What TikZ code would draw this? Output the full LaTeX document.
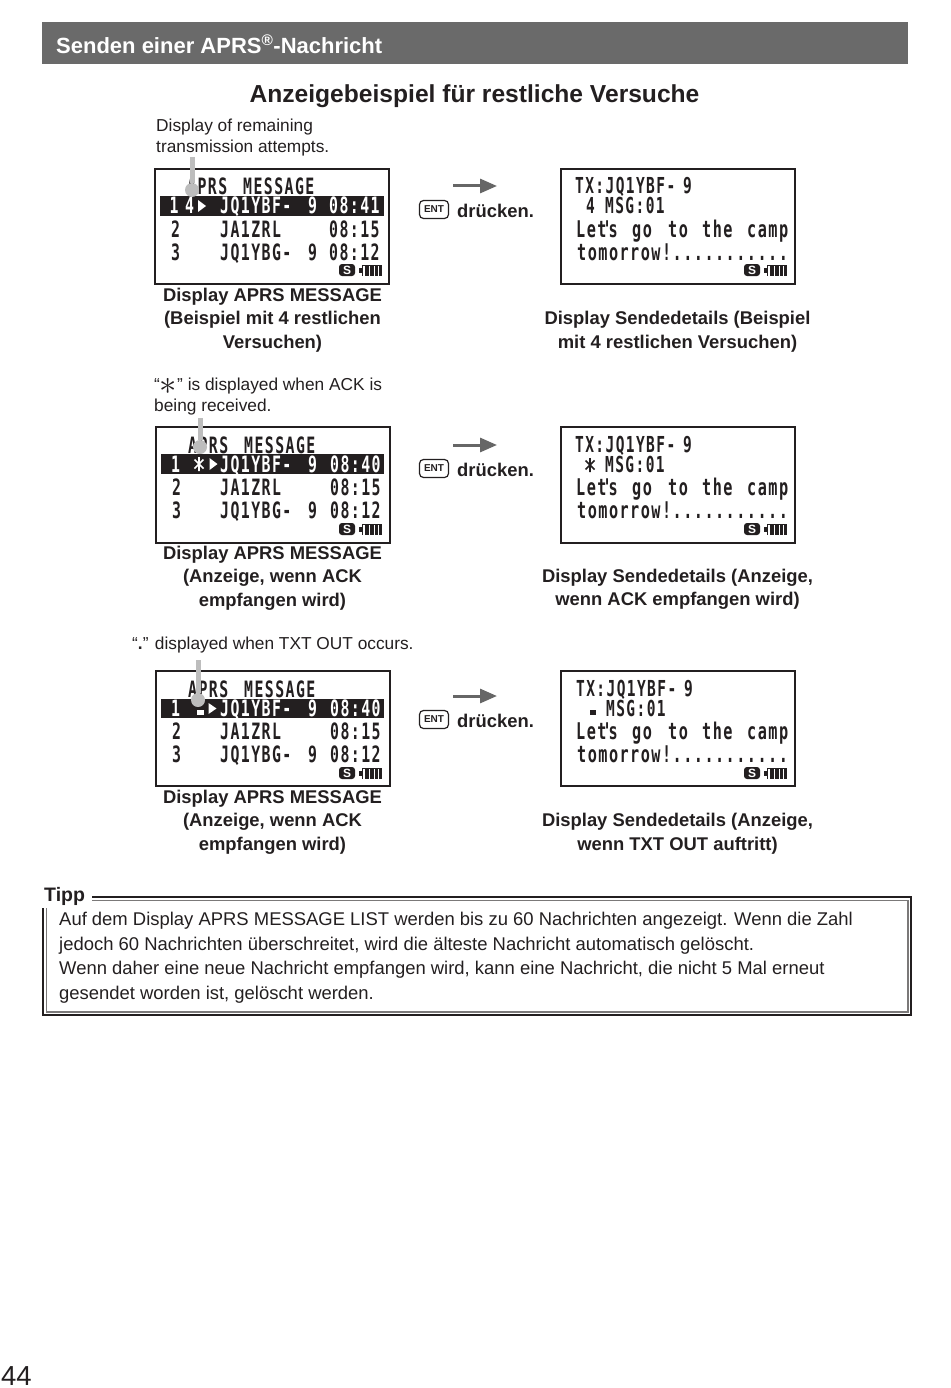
\documentclass[tikz,border=0pt]{standalone}
\usepackage{fontspec}
\usetikzlibrary{arrows.meta}
\setmainfont{Liberation Sans}
\newfontfamily\lcdfont[FakeStretch=0.66,LetterSpace=6.4]{DejaVu Sans Mono Bold}
\definecolor{inkdark}{HTML}{231F20}
\definecolor{headgray}{HTML}{6A6A6A}
\definecolor{leadgray}{HTML}{BDBDBD}
\definecolor{arrowgray}{HTML}{666666}
\begin{document}
\begin{tikzpicture}%
	[
	x=1pt,
	y=-1pt,
	every node/.style={inner sep=0pt,text=inkdark},
	screen/.style={draw=inkdark,line width=2.8pt,fill=white},
	lcdbar/.style={fill=inkdark},
	lcd/.style={anchor=base west,font=\lcdfont\fontsize{22.5}{22.5}\selectfont},
	lcdinv/.style={lcd,text=white},
	lcdline/.style={anchor=base west,font=\lcdfont\fontsize{23}{23}\selectfont},
	lcdtx/.style={anchor=base west,font=\lcdfont\fontsize{22}{22}\selectfont},
	lcdtip/.style={fill=white},
	caption/.style={align=center,font=\bfseries\fontsize{18.4}{23.5}\selectfont},
	callout/.style={anchor=west,align=left,font=\fontsize{17.3}{21}\selectfont},
	leader/.style={draw=leadgray,line width=5pt},
	leaddot/.style={circle,fill=leadgray,minimum size=14pt},
	presskey/.style={draw=inkdark,line width=1.2pt,rounded corners=4pt,minimum width=29pt,minimum height=18pt,font=\bfseries\fontsize{10}{10}\selectfont},
	press/.style={anchor=west,font=\bfseries\fontsize{18.4}{22}\selectfont},
	step arrow/.style={draw=arrowgray,line width=3pt,-{Triangle[length=17pt,width=14pt]}},
	ackmark/.pic={
		\draw[line width=1.7pt] (0,-7) -- (0,7) (-4.5,-4.5) -- (4.5,4.5) (4.5,-4.5) -- (-4.5,4.5);
	},
	status/.pic={
		\fill[inkdark,rounded corners=3pt] (-8,-6) rectangle (8,6);
		\node[text=white,font=\bfseries\fontsize{12}{12}\selectfont] (-s) at (0,0) {S};
		\fill[inkdark] (12,-2.5) rectangle (16,2.5);
		\fill[inkdark] (15,-5.5) rectangle (35,5.5);
		\fill[white] (16,-4) rectangle (18,5.5);
		\fill[white] (22,-4) rectangle (23.2,5.5);
		\fill[white] (26.5,-4) rectangle (27.7,5.5);
		\fill[white] (31,-4) rectangle (32.2,5.5);
	}]

\useasboundingbox (0,0) rectangle (950,1388);

\node[anchor=west,minimum width=866pt,minimum height=42pt,fill=headgray] (header) at (42,43) {};
\node[anchor=west,text=white,font=\bfseries\fontsize{22}{24}\selectfont] (headertext) at (56,44) {Senden einer APRS\textsuperscript{®}-Nachricht};
\node[font=\bfseries\fontsize{24.6}{28}\selectfont] (title) at (474.5,96) {Anzeigebeispiel für restliche Versuche};

% first row
\node[callout] (noteA) at (156,138) {Display of remaining\\transmission attempts.};
\draw[screen] (155,169) rectangle (389,284);
\fill[lcdbar] (160,196) rectangle (384,216);
\node[lcd] (msgAtitle) at (187,195) {APRS};
\node[lcd] (msgAname) at (243,195) {MESSAGE};
\node[lcdinv] (msgAnum) at (169.5,214) {1};
\node[lcdinv] (msgAmark) at (185,214) {4};
\fill[lcdtip] (198,200) -- (206,206) -- (198,212) -- cycle;
\node[lcdinv] (msgAcall) at (220,214) {JQ1YBF-};
\node[lcdinv] (msgAssid) at (308,214) {9};
\node[lcdinv] (msgAtime) at (329,214) {08:41};
\node[lcd] (msgAtwo) at (171,237) {2};
\node[lcd] (msgAtwocall) at (220,237) {JA1ZRL};
\node[lcd] (msgAtwotime) at (329,237) {08:15};
\node[lcd] (msgAthree) at (171,260) {3};
\node[lcd] (msgAthreecall) at (220,260) {JQ1YBG-};
\node[lcd] (msgAthreessid) at (308,260) {9};
\node[lcd] (msgAthreetime) at (329,260) {08:12};
\pic (iconA) at (347,270) {status};
\coordinate (leadA) at (192,157);
\node[leaddot] (dotA) at (192,190) {};
\draw[leader] (leadA) -- (dotA);
\node[caption] (capA) at (272.5,320) {Display APRS MESSAGE\\(Beispiel mit 4 restlichen\\Versuchen)};
\coordinate (arrA) at (453,186);
\coordinate (arrAend) at (497,186);
\draw[step arrow] (arrA) -- (arrAend);
\node[presskey] (keyA) at (434,209.5) {ENT};
\node[press] (pressA) at (457,211) {drücken.};
\draw[screen] (561,169) rectangle (795,284);
\node[lcdtx] (txA) at (575,194) {TX:JQ1YBF-};
\node[lcdtx] (txAssid) at (683,194) {9};
\node[lcdtx] (txAmark) at (586,214) {4};
\node[lcdtx] (txAmsg) at (605,214) {MSG:01};
\node[lcdline] (txAline) at (576,237) {Let\kern-4pt'\kern-3pt s};
\node[lcdline] (txAgo) at (632,237) {go};
\node[lcdline] (txAto) at (668,237) {to};
\node[lcdline] (txAthe) at (702,237) {the};
\node[lcdline] (txAcamp) at (747,237) {camp};
\node[lcdline] (txAtext) at (577,260) {tomorrow!...........};
\pic (iconAb) at (752,270) {status};
\node[caption] (capAb) at (677.5,331.5) {Display Sendedetails (Beispiel\\mit 4 restlichen Versuchen)};

% second row
\node[callout] (noteB) at (154,397) {“\raisebox{-3.5pt}{\scalebox{2}{$\ast$}}” is displayed when ACK is\\being received.};
\draw[screen] (156,427) rectangle (390,543);
\fill[lcdbar] (161,454) rectangle (384,474);
\node[lcd] (msgBtitle) at (188,453) {APRS};
\node[lcd] (msgBname) at (244,453) {MESSAGE};
\node[lcdinv] (msgBnum) at (171,472) {1};
\pic[color=white] (ackB) at (199,464) {ackmark};
\fill[lcdtip] (209.5,458) -- (217.5,464) -- (209.5,470) -- cycle;
\node[lcdinv] (msgBcall) at (220,472) {JQ1YBF-};
\node[lcdinv] (msgBssid) at (308,472) {9};
\node[lcdinv] (msgBtime) at (330,472) {08:40};
\node[lcd] (msgBtwo) at (172,495) {2};
\node[lcd] (msgBtwocall) at (220,495) {JA1ZRL};
\node[lcd] (msgBtwotime) at (330,495) {08:15};
\node[lcd] (msgBthree) at (172,518) {3};
\node[lcd] (msgBthreecall) at (220,518) {JQ1YBG-};
\node[lcd] (msgBthreessid) at (308,518) {9};
\node[lcd] (msgBthreetime) at (330,518) {08:12};
\pic (iconB) at (347,529) {status};
\coordinate (leadB) at (200,418);
\node[leaddot] (dotB) at (200,447) {};
\draw[leader] (leadB) -- (dotB);
\node[caption] (capB) at (272.5,578) {Display APRS MESSAGE\\(Anzeige, wenn ACK\\empfangen wird)};
\coordinate (arrB) at (453,445);
\coordinate (arrBend) at (497,445);
\draw[step arrow] (arrB) -- (arrBend);
\node[presskey] (keyB) at (434,468.5) {ENT};
\node[press] (pressB) at (457,470) {drücken.};
\draw[screen] (561,427) rectangle (795,543);
\node[lcdtx] (txB) at (575,452) {TX:JQ1YBF-};
\node[lcdtx] (txBssid) at (683,452) {9};
\pic[color=inkdark] (ackBb) at (590,465) {ackmark};
\node[lcdtx] (txBmsg) at (605,472) {MSG:01};
\node[lcdline] (txBline) at (576,495) {Let\kern-4pt'\kern-3pt s};
\node[lcdline] (txBgo) at (632,495) {go};
\node[lcdline] (txBto) at (668,495) {to};
\node[lcdline] (txBthe) at (702,495) {the};
\node[lcdline] (txBcamp) at (747,495) {camp};
\node[lcdline] (txBtext) at (577,518) {tomorrow!...........};
\pic (iconBb) at (752,529) {status};
\node[caption] (capBb) at (677.5,589.5) {Display Sendedetails (Anzeige,\\wenn ACK empfangen wird)};

% third row
\node[callout] (noteC) at (132,645) {“\textbf{.}” displayed when TXT OUT occurs.};
\draw[screen] (156,671) rectangle (390,786);
\fill[lcdbar] (161,699) rectangle (384,718);
\node[lcd] (msgCtitle) at (188,697) {APRS};
\node[lcd] (msgCname) at (244,697) {MESSAGE};
\node[lcdinv] (msgCnum) at (171,716) {1};
\fill[white] (197,710) rectangle (204,715);
\fill[lcdtip] (208.5,703) -- (216.5,708.5) -- (208.5,714) -- cycle;
\node[lcdinv] (msgCcall) at (220,716) {JQ1YBF-};
\node[lcdinv] (msgCssid) at (308,716) {9};
\node[lcdinv] (msgCtime) at (330,716) {08:40};
\node[lcd] (msgCtwo) at (172,739) {2};
\node[lcd] (msgCtwocall) at (220,739) {JA1ZRL};
\node[lcd] (msgCtwotime) at (330,739) {08:15};
\node[lcd] (msgCthree) at (172,762) {3};
\node[lcd] (msgCthreecall) at (220,762) {JQ1YBG-};
\node[lcd] (msgCthreessid) at (308,762) {9};
\node[lcd] (msgCthreetime) at (330,762) {08:12};
\pic (iconC) at (347,773) {status};
\coordinate (leadC) at (198,660);
\node[leaddot] (dotC) at (198,700) {};
\draw[leader] (leadC) -- (dotC);
\node[caption] (capC) at (272.5,822) {Display APRS MESSAGE\\(Anzeige, wenn ACK\\empfangen wird)};
\coordinate (arrC) at (453,696);
\coordinate (arrCend) at (497,696);
\draw[step arrow] (arrC) -- (arrCend);
\node[presskey] (keyC) at (434,719.5) {ENT};
\node[press] (pressC) at (457,721) {drücken.};
\draw[screen] (561,671) rectangle (795,786);
\node[lcdtx] (txC) at (576,696) {TX:JQ1YBF-};
\node[lcdtx] (txCssid) at (684,696) {9};
\fill[inkdark] (590,710) rectangle (596,715);
\node[lcdtx] (txCmsg) at (606,716) {MSG:01};
\node[lcdline] (txCline) at (576,739) {Let\kern-4pt'\kern-3pt s};
\node[lcdline] (txCgo) at (632,739) {go};
\node[lcdline] (txCto) at (668,739) {to};
\node[lcdline] (txCthe) at (702,739) {the};
\node[lcdline] (txCcamp) at (747,739) {camp};
\node[lcdline] (txCtext) at (577,762) {tomorrow!...........};
\pic (iconCb) at (752,773) {status};
\node[caption] (capCb) at (677.5,833.5) {Display Sendedetails (Anzeige,\\wenn TXT OUT auftritt)};

% tip frame
\node[anchor=west,font=\bfseries\fontsize{19.5}{24}\selectfont] (tipp) at (44,896) {Tipp};
\draw[inkdark,line width=1.2pt] (92,897) -- (911,897) -- (911,1015) -- (43,1015) -- (43,908);
\draw[inkdark!60,line width=1.2pt] (92,900.5) -- (908,900.5) -- (908,1012) -- (46.5,1012) -- (46.5,908);
\node[anchor=north west,align=left,font=\fontsize{18.44}{24.5}\selectfont] (tipptext) at (59,912) {Auf dem Display APRS MESSAGE LIST werden bis zu 60 Nachrichten angezeigt. Wenn die Zahl\\jedoch 60 Nachrichten überschreitet, wird die älteste Nachricht automatisch gelöscht.\\Wenn daher eine neue Nachricht empfangen wird, kann eine Nachricht, die nicht 5 Mal erneut\\gesendet worden ist, gelöscht werden.};

\node[anchor=west,font=\fontsize{27.5}{30}\selectfont] (pagenum) at (1,1376) {44};
\end{tikzpicture}
\end{document}
